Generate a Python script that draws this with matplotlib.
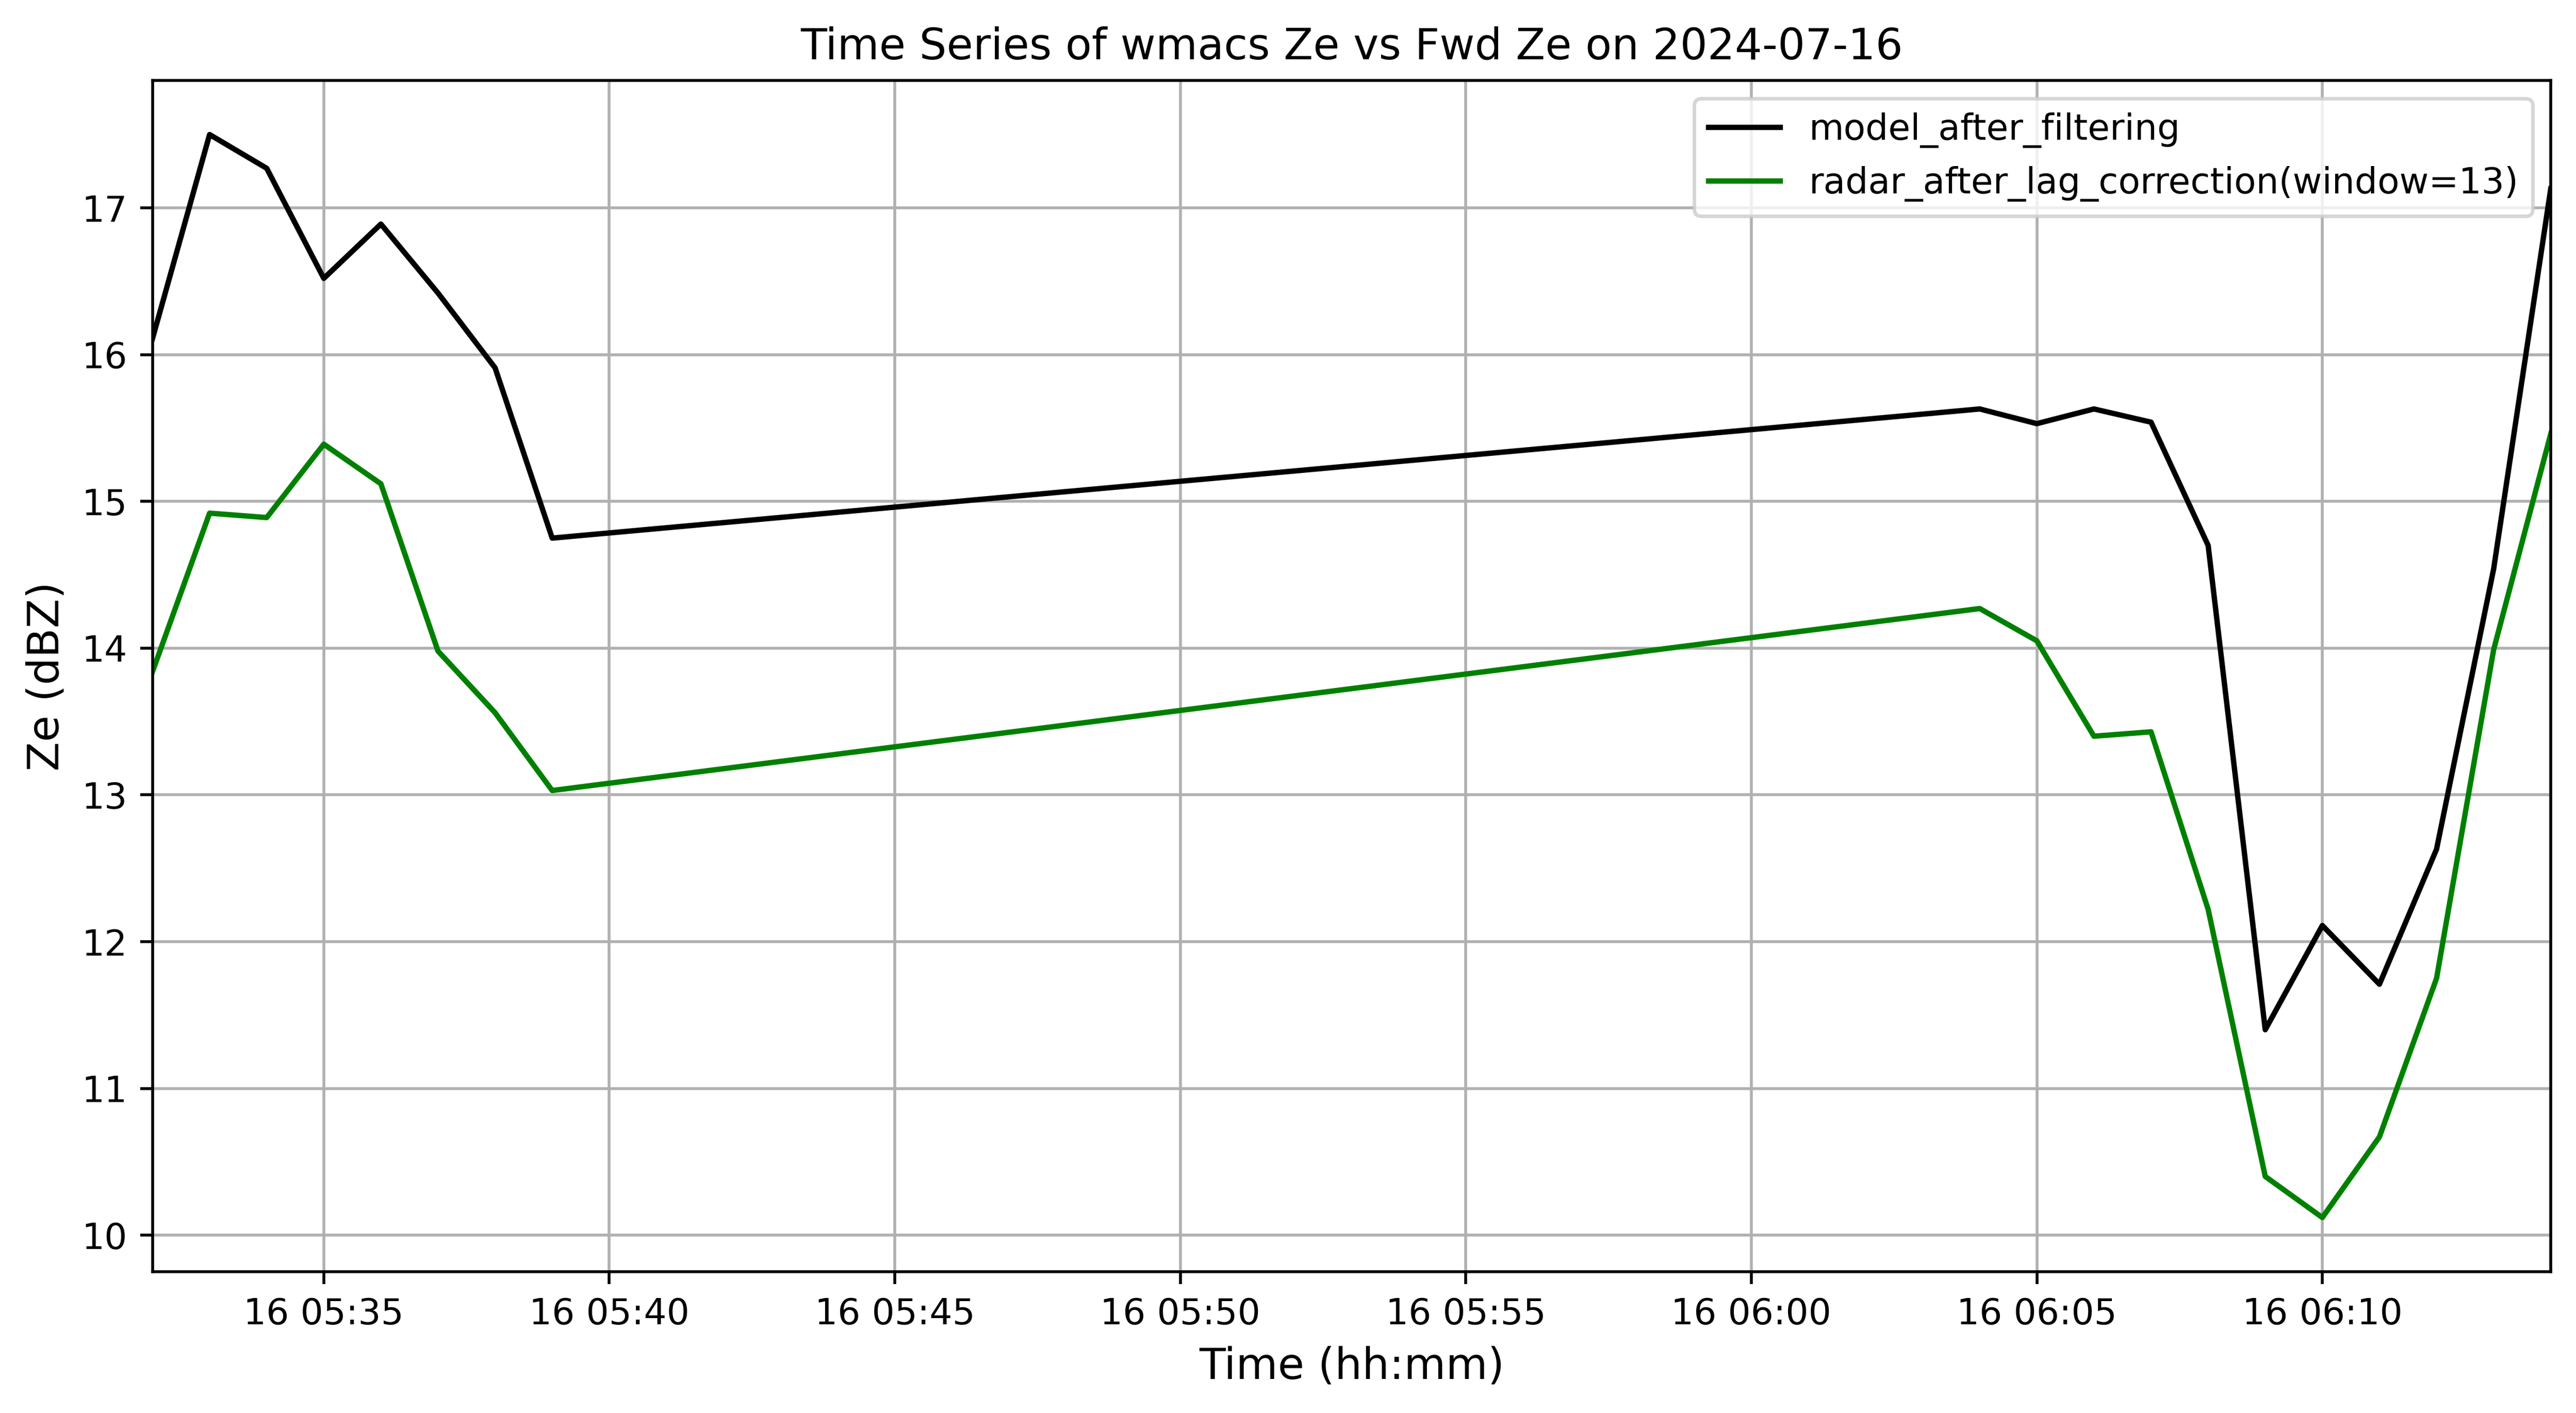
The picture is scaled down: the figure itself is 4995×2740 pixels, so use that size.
import numpy as np
import pandas as pd
import matplotlib
matplotlib.use('Agg')
import matplotlib.pyplot as plt
import matplotlib.dates as mdates

# minutes sampled on 2024-07-16
times = ['05:32', '05:33', '05:34', '05:35', '05:36', '05:37', '05:38', '05:39',
         '06:04', '06:05', '06:06', '06:07', '06:08', '06:09', '06:10', '06:11',
         '06:12', '06:13', '06:14']
model_ze = [16.11, 17.50, 17.27, 16.52, 16.89, 16.42, 15.91, 14.75,
            15.63, 15.53, 15.63, 15.54, 14.70, 11.40, 12.11, 11.71,
            12.63, 14.54, 17.13]
radar_ze = [13.84, 14.92, 14.89, 15.39, 15.12, 13.98, 13.56, 13.03,
            14.27, 14.05, 13.40, 13.43, 12.22, 10.40, 10.12, 10.67,
            11.75, 13.99, 15.46]

t = pd.to_datetime(['2024-07-16 ' + s for s in times])

fig = plt.figure(figsize=(9.99, 5.48), dpi=500)
ax = fig.add_axes([0.0592, 0.1000, 0.9310, 0.8431])

ax.plot(t, model_ze, color='black', lw=1.5, label='model_after_filtering')
ax.plot(t, radar_ze, color='green', lw=1.5, label='radar_after_lag_correction(window=13)')

ax.set_xlim(t[0], t[-1])
ax.xaxis.set_major_locator(mdates.MinuteLocator(byminute=range(0, 60, 5)))
ax.xaxis.set_major_formatter(mdates.DateFormatter('%d %H:%M'))

ax.set_title('Time Series of wmacs Ze vs Fwd Ze on 2024-07-16', fontsize=12)
ax.set_xlabel('Time (hh:mm)', fontsize=12)
ax.set_ylabel('Ze (dBZ)', fontsize=12)
ax.grid(True)
ax.legend(loc='upper right', fontsize=10)

fig.savefig('out.png', dpi=500)
